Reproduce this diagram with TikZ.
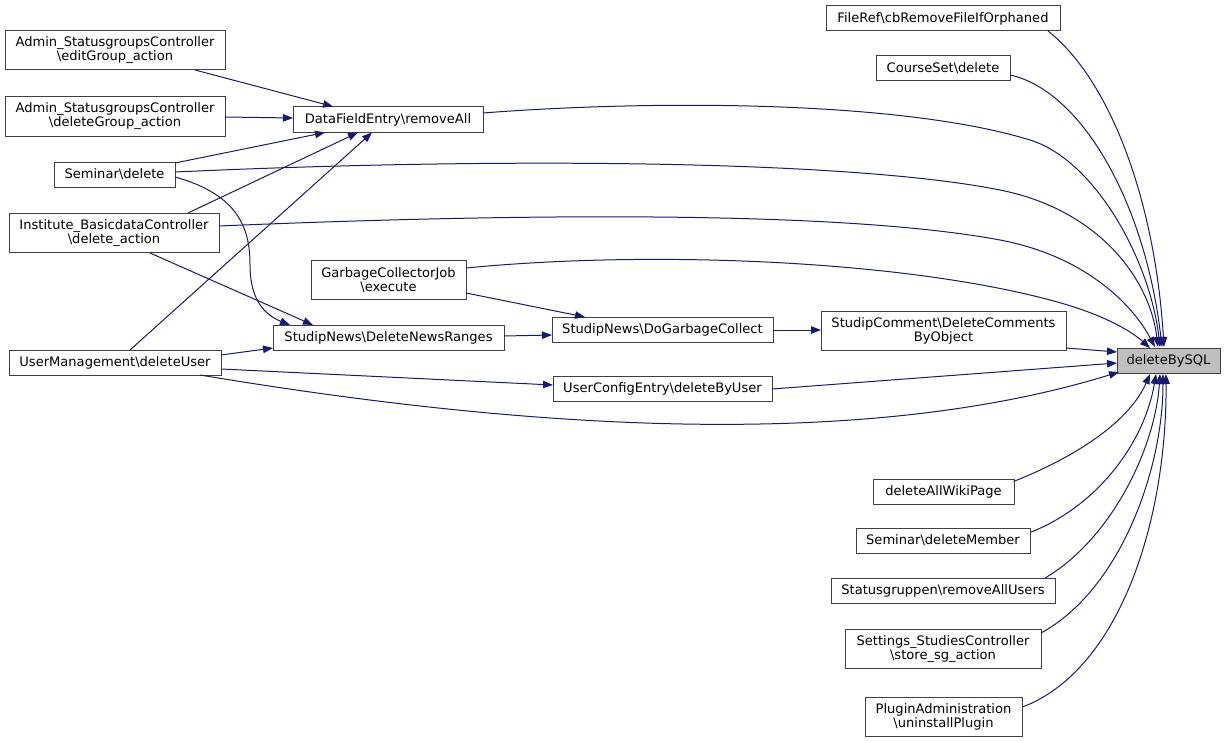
\documentclass[tikz,border=0pt]{standalone}
\usepackage{fontspec}
\setmainfont{DejaVu Sans}
\usetikzlibrary{arrows.meta,calc}
\definecolor{edgeblue}{HTML}{191970}
\definecolor{boxline}{HTML}{404040}
\definecolor{hl}{HTML}{BFBFBF}
\begin{document}
\begin{tikzpicture}[x=0.75pt,y=-0.75pt,
  fn/.style={draw=boxline,line width=0.75pt,fill=white,inner sep=0pt,align=center,
    font=\fontsize{9.8}{10.6}\selectfont,minimum height=18.75pt},
  tall/.style={minimum height=29.25pt},
  call/.style={draw=edgeblue,line width=0.75pt,-{Triangle[length=7.5pt,width=5.6pt]},fill=none}]
\useasboundingbox (0,0) rectangle (1225,742);

% nodes
\node[fn,minimum width=175.5pt] (fileref) at (943,18.5) {FileRef\textbackslash cbRemoveFileIfOrphaned};
\node[fn,minimum width=100.5pt] (courseset) at (943,68.5) {CourseSet\textbackslash delete};
\node[fn,tall,minimum width=165pt] (editgrp) at (115,50.5) {Admin\_StatusgroupsController\\\textbackslash editGroup\_action};
\node[fn,tall,minimum width=165pt] (delgrp) at (115,116.5) {Admin\_StatusgroupsController\\\textbackslash deleteGroup\_action};
\node[fn,minimum width=142.5pt] (removeall) at (388,119.5) {DataFieldEntry\textbackslash removeAll};
\node[fn,minimum width=90.75pt] (semdel) at (114.5,174.5) {Seminar\textbackslash delete};
\node[fn,tall,minimum width=157.5pt] (inst) at (114,233) {Institute\_BasicdataController\\\textbackslash delete\_action};
\node[fn,tall,minimum width=116.25pt] (gcjob) at (388.5,280) {GarbageCollectorJob\\\textbackslash execute};
\node[fn,minimum width=173.25pt] (dnr) at (388.5,337.5) {StudipNews\textbackslash DeleteNewsRanges};
\node[fn,minimum width=159pt] (um) at (115,362.5) {UserManagement\textbackslash deleteUser};
\node[fn,minimum width=165.75pt] (dogc) at (662.5,329.5) {StudipNews\textbackslash DoGarbageCollect};
\node[fn,minimum width=164.25pt] (uce) at (662.5,388.5) {UserConfigEntry\textbackslash deleteByUser};
\node[fn,tall,minimum width=183.75pt] (comment) at (943.5,330.5) {StudipComment\textbackslash DeleteComments\\ByObject};
\node[fn,fill=hl,minimum width=77.25pt] (sql) at (1168.5,360.5) {deleteBySQL};
\node[fn,minimum width=105.75pt] (wiki) at (943.5,491.5) {deleteAllWikiPage};
\node[fn,minimum width=130.5pt] (member) at (943,540.5) {Seminar\textbackslash deleteMember};
\node[fn,minimum width=168pt] (statusg) at (943,590.5) {Statusgruppen\textbackslash removeAllUsers};
\node[fn,tall,minimum width=147pt] (settings) at (943,649) {Settings\_StudiesController\\\textbackslash store\_sg\_action};
\node[fn,tall,minimum width=117.75pt] (plugin) at (943.5,717) {PluginAdministration\\\textbackslash uninstallPlugin};

% edges into deleteBySQL (top)
\draw[call] ($(fileref)+(105,12.5)$) .. controls (1110,80) and (1155,200) .. ($(sql)+(-4.5,-13.5)$);
\draw[call] ($(courseset)+(67,6.5)$) .. controls (1080,90) and (1145,200) .. ($(sql)+(-6.5,-13.5)$);
\draw[call] ($(removeall)+(95,-6.5)$) .. controls (650,100) and (900,100) .. (1030,140) .. controls (1095,160) and (1150,260) .. ($(sql)+(-8.5,-13.5)$);
\draw[call] ($(semdel)+(60.5,-2.5)$) .. controls (500,157) and (850,160) .. (1000,190) .. controls (1100,210) and (1150,280) .. ($(sql)+(-10.5,-13.5)$);
\draw[call] ($(inst)+(105,-7)$) .. controls (550,212) and (850,212) .. (1000,240) .. controls (1080,255) and (1130,300) .. ($(sql)+(-13.5,-13.5)$);
\draw[call] ($(gcjob)+(77.5,-12)$) .. controls (650,250) and (900,260) .. (1050,300) .. controls (1100,313) and (1130,330) .. ($(sql)+(-18.5,-12.5)$);

% edges into deleteBySQL (left)
\draw[call] ($(comment)+(122.5,17.5)$) -- ($(sql)+(-51.5,-8.5)$);
\draw[call] ($(uce)+(109.5,0.5)$) -- ($(sql)+(-51.5,2.5)$);
\draw[call] ($(um)+(85,12.5)$) .. controls (500,425) and (850,455) .. ($(sql)+(-49.5,11.5)$);

% edges into deleteBySQL (bottom)
\draw[call] ($(wiki)+(70,-10)$) .. controls (1080,455) and (1130,420) .. ($(sql)+(-18.5,13.5)$);
\draw[call] ($(member)+(87,-8)$) .. controls (1100,505) and (1145,440) .. ($(sql)+(-12.5,13.5)$);
\draw[call] ($(statusg)+(102,-12.5)$) .. controls (1110,540) and (1155,450) .. ($(sql)+(-8.5,13.5)$);
\draw[call] ($(settings)+(98,-16)$) .. controls (1120,590) and (1163,470) .. ($(sql)+(-5.5,13.5)$);
\draw[call] ($(plugin)+(79,-10)$) .. controls (1120,670) and (1167,520) .. ($(sql)+(-2.5,13.5)$);

% edges into DataFieldEntry\removeAll
\draw[call] ($(editgrp)+(80,19.5)$) -- ($(removeall)+(-55,-13)$);
\draw[call] ($(delgrp)+(110,0.5)$) -- ($(removeall)+(-95,-1.5)$);
\draw[call] ($(semdel)+(60.5,-11.5)$) -- ($(removeall)+(-63,13)$);
\draw[call] ($(inst)+(74,-20)$) -- ($(removeall)+(-30,13)$);
\draw[call] ($(um)+(15,-12.5)$) -- ($(removeall)+(-16,13)$);

% edges into StudipNews\DeleteNewsRanges
\draw[call] ($(semdel)+(60.5,2.5)$) .. controls (240,195) and (250,230) .. (250,265) .. controls (250,300) and (265,315) .. ($(dnr)+(-98.5,-12.5)$);
\draw[call] ($(inst)+(36,20)$) -- ($(dnr)+(-75.5,-12.5)$);
\draw[call] ($(um)+(106,-7.5)$) -- ($(dnr)+(-115.5,10.5)$);

% other edges
\draw[call] ($(um)+(106,6.5)$) -- ($(uce)+(-109.5,-3.5)$);
\draw[call] ($(dnr)+(115.5,-1.5)$) -- ($(dogc)+(-110.5,5.5)$);
\draw[call] ($(gcjob)+(77.5,13)$) -- ($(dogc)+(-77.5,-12.5)$);
\draw[call] ($(dogc)+(110.5,0.5)$) -- ($(comment)+(-122.5,-0.5)$);
\end{tikzpicture}
\end{document}
